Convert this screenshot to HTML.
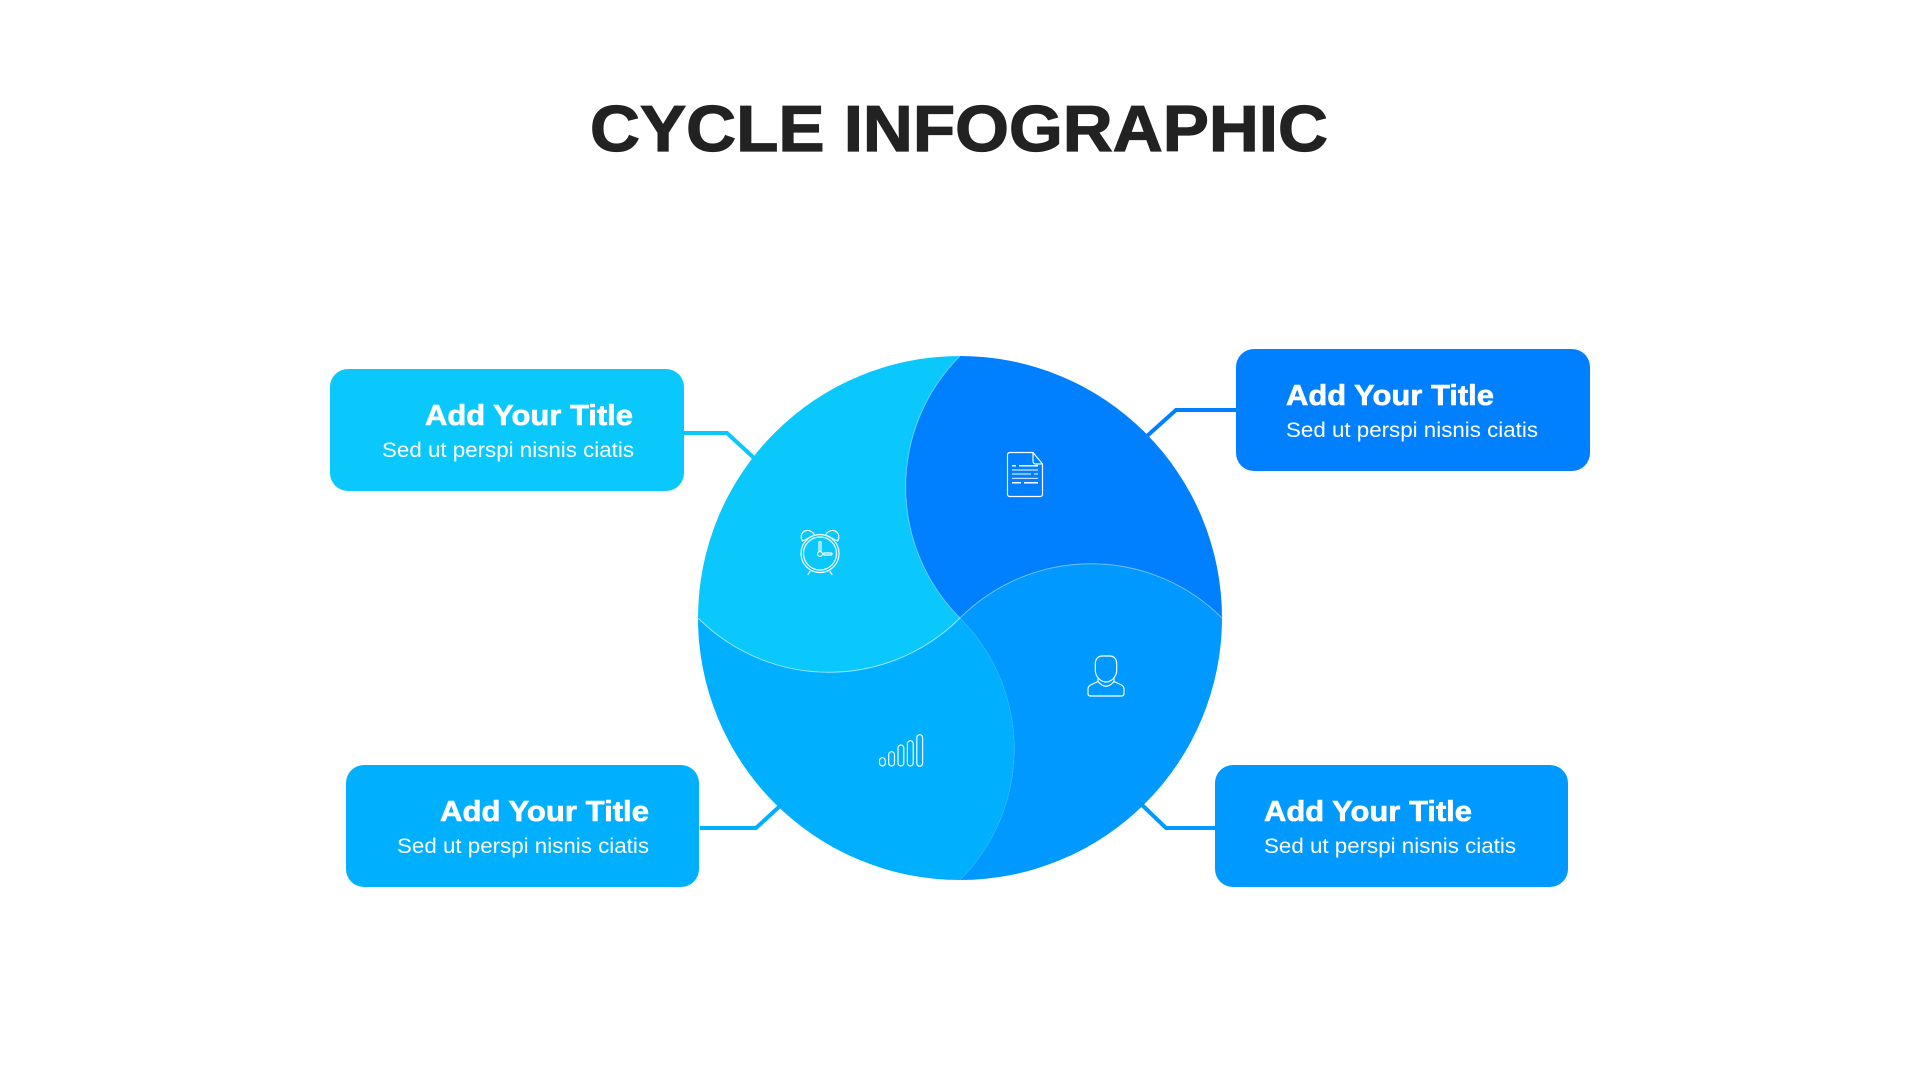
<!DOCTYPE html>
<html>
<head>
<meta charset="utf-8">
<style>
html,body{margin:0;padding:0;background:#fff;width:1920px;height:1080px;overflow:hidden}
svg{display:block}
text{font-family:"Liberation Sans",sans-serif;fill:#fff}
.h{font-size:29px;font-weight:700;stroke:#fff;stroke-width:.6px}
.s{font-size:21.5px}
.i{fill:none;stroke:#fff;stroke-width:1.15;stroke-linecap:round;stroke-linejoin:round}
.c{fill:none;stroke-width:4}
</style>
</head>
<body>
<svg width="1920" height="1080" viewBox="0 0 1920 1080" xmlns="http://www.w3.org/2000/svg">
<rect width="1920" height="1080" fill="#fff"/>
<text x="590" y="151" font-size="65" font-weight="700" textLength="738" lengthAdjust="spacingAndGlyphs" style="fill:#222;stroke:#222;stroke-width:1.2px">CYCLE INFOGRAPHIC</text>

<!-- connectors -->
<polyline class="c" stroke="#0AC8FC" points="684,433 727,433 754,458"/>
<polyline class="c" stroke="#0080FF" points="1236,410 1176,410 1147,436"/>
<polyline class="c" stroke="#00B0FF" points="700,828 756,828 780,806"/>
<polyline class="c" stroke="#0099FF" points="1215,828 1166,828 1142,805"/>

<!-- circle petals -->
<path fill="#0099FF" d="M1222 618A262 262 0 0 1 960 880A185.26 185.26 0 0 0 960 618A185.26 185.26 0 0 1 1222 618Z"/>
<path fill="#00B0FF" d="M960 880A262 262 0 0 1 698 618A185.26 185.26 0 0 0 960 618A185.26 185.26 0 0 1 960 880Z"/>
<path fill="#0080FF" d="M960 356A262 262 0 0 1 1222 618A185.26 185.26 0 0 0 960 618A185.26 185.26 0 0 1 960 356Z"/>
<path fill="#0AC8FC" d="M960 356A262 262 0 0 0 698 618A185.26 185.26 0 0 0 960 618A185.26 185.26 0 0 1 960 356Z"/>
<g fill="none" stroke="#fff" stroke-width="1">
<path stroke-opacity=".55" d="M698 618A185.26 185.26 0 0 0 960 618"/>
<path stroke-opacity=".4" d="M960 618A185.26 185.26 0 0 1 1222 618"/>
<path stroke-opacity=".3" d="M960 356A185.26 185.26 0 0 0 960 618"/>
<path stroke-opacity=".08" d="M960 618A185.26 185.26 0 0 1 960 880"/>
</g>

<!-- boxes -->
<rect x="330" y="369" width="354" height="122" rx="18" fill="#0AC8FC"/>
<rect x="1236" y="349" width="354" height="122" rx="18" fill="#0080FF"/>
<rect x="346" y="765" width="353" height="122" rx="18" fill="#00B0FF"/>
<rect x="1215" y="765" width="353" height="122" rx="18" fill="#0099FF"/>

<text class="h" x="425" y="425" textLength="208" lengthAdjust="spacingAndGlyphs">Add Your Title</text>
<text class="s" x="382" y="457" textLength="252" lengthAdjust="spacingAndGlyphs">Sed ut perspi nisnis ciatis</text>
<text class="h" x="1286" y="405" textLength="208" lengthAdjust="spacingAndGlyphs">Add Your Title</text>
<text class="s" x="1286" y="437" textLength="252" lengthAdjust="spacingAndGlyphs">Sed ut perspi nisnis ciatis</text>
<text class="h" x="440" y="821" textLength="209" lengthAdjust="spacingAndGlyphs">Add Your Title</text>
<text class="s" x="397" y="853" textLength="252" lengthAdjust="spacingAndGlyphs">Sed ut perspi nisnis ciatis</text>
<text class="h" x="1264" y="821" textLength="208" lengthAdjust="spacingAndGlyphs">Add Your Title</text>
<text class="s" x="1264" y="853" textLength="252" lengthAdjust="spacingAndGlyphs">Sed ut perspi nisnis ciatis</text>

<!-- document icon -->
<g class="i">
<path d="M1033 452.5H1010Q1007.5 452.5 1007.5 455V494Q1007.5 496.5 1010 496.5H1040Q1042.5 496.5 1042.5 494V464L1033 452.5V461Q1033 464 1036 464H1042.5"/>
<path stroke-width="1.5" stroke-linecap="butt" d="M1012 465.7H1016M1019 465.7H1038"/>
<path stroke-width=".9" stroke-linecap="butt" d="M1012 470H1038M1012 474H1031M1034 474H1038M1012 478.3H1038"/>
<path stroke-width="1.5" stroke-linecap="butt" d="M1012 482.7H1021M1024 482.7H1038"/>
</g>

<!-- clock icon -->
<g class="i">
<circle cx="820" cy="553.5" r="19"/>
<circle cx="820" cy="553.5" r="16.5"/>
<path d="M802.5 541C799.5 536 802 531 807 530.5C810 530.3 813 532 814.5 535ZM837.5 541C840.5 536 838 531 833 530.5C830 530.3 827 532 825.5 535Z"/>
<path d="M810 571.5L808 574.5M830 571.5L832 574.5"/>
<rect x="819" y="541.5" width="2" height="10" rx="1"/>
<circle cx="820" cy="554" r="2.4"/>
<rect x="823.5" y="553" width="8.5" height="2" rx="1"/>
</g>

<!-- person icon -->
<g class="i">
<path d="M1095.3 664C1095.3 658.5 1098.5 656 1102 656H1110C1113.5 656 1116.7 658.5 1116.7 664V670C1116.7 677 1111 682 1106 682C1101 682 1095.3 677 1095.3 670Z"/>
<path d="M1098 678V681.5L1090.5 685Q1088 686.5 1088 689V693.5Q1088 696 1090.5 696H1121.5Q1124 696 1124 693.5V689Q1124 686.5 1121.5 685L1114 681.5V678"/>
<path d="M1098 681.5Q1106 691 1114 681.5"/>
</g>

<!-- bars icon -->
<g class="i">
<rect x="879.5" y="757.7" width="5.8" height="8.3" rx="2.9"/>
<rect x="888.7" y="751.7" width="5.8" height="14.3" rx="2.9"/>
<rect x="898" y="745" width="5.8" height="21" rx="2.9"/>
<rect x="907.4" y="740.7" width="5.8" height="25.3" rx="2.9"/>
<rect x="916.8" y="734.7" width="5.8" height="31.6" rx="2.9"/>
</g>
</svg>
</body>
</html>
